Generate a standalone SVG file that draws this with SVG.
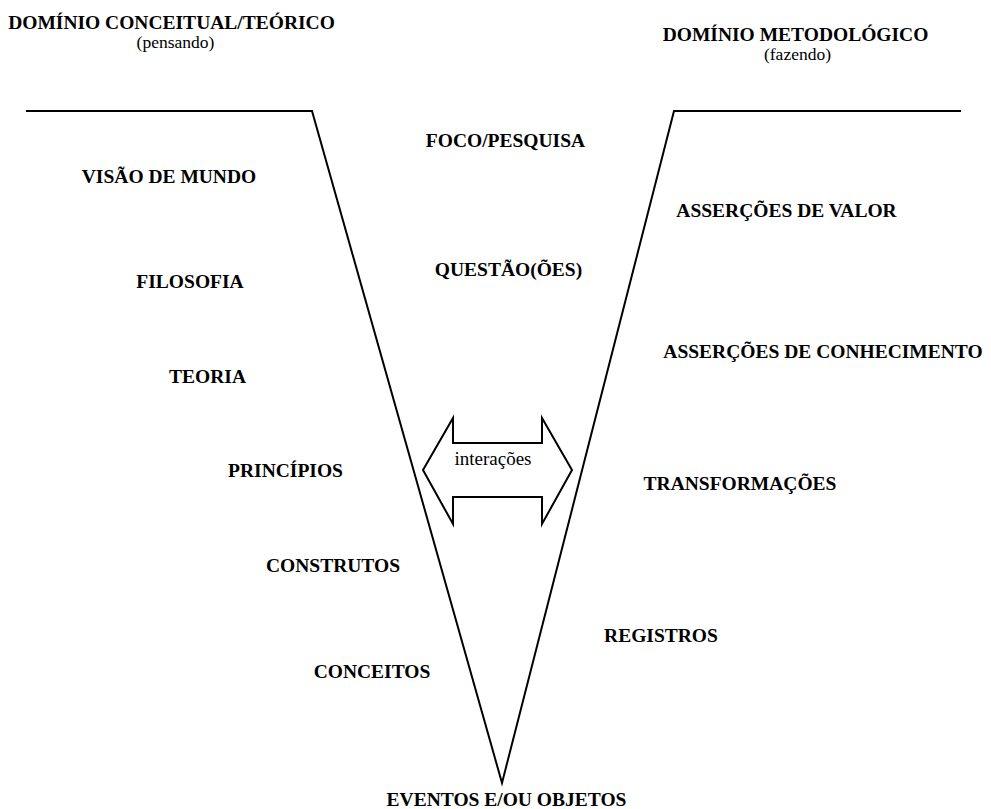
<svg xmlns="http://www.w3.org/2000/svg" width="991" height="809" viewBox="0 0 991 809">
<style>
text{font-family:'Liberation Serif','Times New Roman',Times,'DejaVu Serif',serif;fill:#000;text-anchor:middle}
.b{font-weight:bold;font-size:19.5px}
.r{font-weight:normal;font-size:17.5px}
.ln{fill:none;stroke:#000;stroke-width:2;stroke-linejoin:miter}
</style>
<rect width="991" height="809" fill="#fff"/>
<g id="connectors">
<polyline class="ln" points="26,111 312,111 502,783 674,111 961,111"/>
</g>
<g id="interacoes">
<polygon class="ln" points="423,470 453,418 453,443 542,443 542,418 572,470 542,524 542,497 453,497 453,524"/>
<text class="r" x="493" y="465" style="font-size:19px">interações</text>
</g>
<g id="dominio-conceitual">
<text class="b" x="171.5" y="29">DOMÍNIO CONCEITUAL/TEÓRICO</text>
<text class="r" x="175.5" y="48">(pensando)</text>
</g>
<g id="dominio-metodologico">
<text class="b" x="795.5" y="41">DOMÍNIO METODOLÓGICO</text>
<text class="r" x="797.5" y="60">(fazendo)</text>
</g>
<g id="visao"><text class="b" x="169" y="183">VISÃO DE MUNDO</text></g>
<g id="filosofia"><text class="b" x="190" y="288">FILOSOFIA</text></g>
<g id="teoria"><text class="b" x="207.5" y="383">TEORIA</text></g>
<g id="principios"><text class="b" x="285.5" y="477">PRINCÍPIOS</text></g>
<g id="construtos"><text class="b" x="333" y="572">CONSTRUTOS</text></g>
<g id="conceitos"><text class="b" x="372" y="678">CONCEITOS</text></g>
<g id="foco"><text class="b" x="505.5" y="147">FOCO/PESQUISA</text></g>
<g id="questoes"><text class="b" x="508.5" y="276">QUESTÃO(ÕES)</text></g>
<g id="valor"><text class="b" x="786.5" y="217">ASSERÇÕES DE VALOR</text></g>
<g id="conhecimento"><text class="b" x="823" y="358">ASSERÇÕES DE CONHECIMENTO</text></g>
<g id="transformacoes"><text class="b" x="740" y="490">TRANSFORMAÇÕES</text></g>
<g id="registros"><text class="b" x="661" y="642">REGISTROS</text></g>
<g id="eventos"><text class="b" x="506.5" y="806">EVENTOS E/OU OBJETOS</text></g>
</svg>
